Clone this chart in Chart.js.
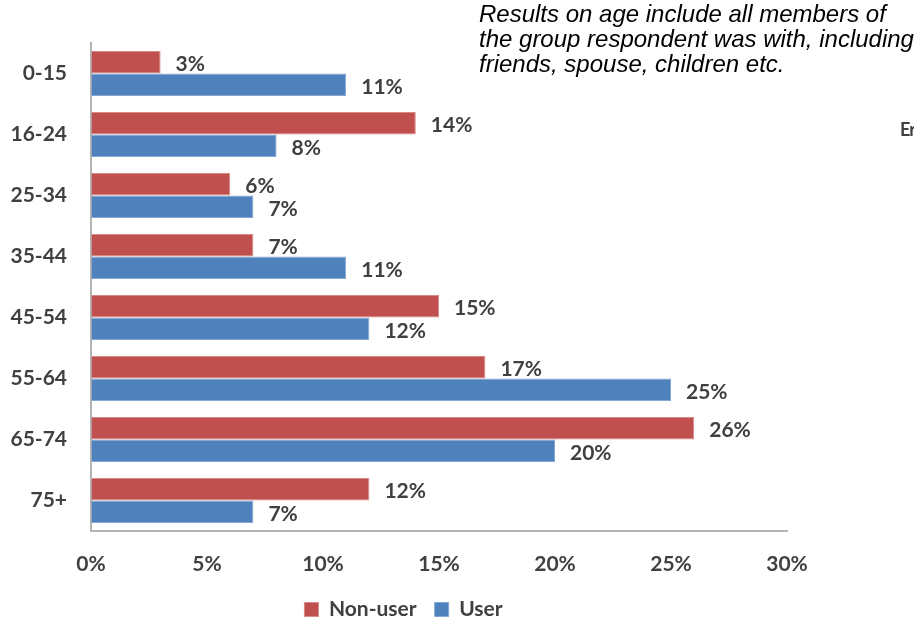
<!DOCTYPE html>
<html>
<head>
<meta charset="utf-8">
<script src="https://cdn.jsdelivr.net/npm/chart.js@4"></script>
<style>
  body { margin: 0; background: #fff; }
  #wrap { position: relative; width: 914px; height: 621px; overflow: hidden; }
  #note {
    position: absolute; left: 479px; top: 1px;
    font: italic 24px "Liberation Sans", Arial, sans-serif;
    line-height: 25px; color: #000; white-space: nowrap;
  }
  #cut {
    position: absolute; left: 900px; top: 118px;
    font: bold 18px Lato, sans-serif; color: #404040; white-space: nowrap;
    letter-spacing: -1px;
  }
</style>
</head>
<body>
<div id="wrap">
  <canvas id="ageChart" width="914" height="621"></canvas>
  <div id="note">Results on age include all members of<br>the group respondent was with, including<br>friends, spouse, children etc.</div>
  <div id="cut">Er</div>
</div>
<script>
const ageGroups = ['0-15', '16-24', '25-34', '35-44', '45-54', '55-64', '65-74', '75+'];
const nonUser = [3, 14, 6, 7, 15, 17, 26, 12];
const user = [11, 8, 7, 11, 12, 25, 20, 7];

const textColor = '#404040';
const labelFont = { family: 'Lato', size: 21, weight: 'bold' };

// percent labels to the right of each bar
const valueLabels = {
  id: 'valueLabels',
  afterDatasetsDraw(chart) {
    const ctx = chart.ctx;
    ctx.save();
    ctx.font = 'bold 21px Lato';
    ctx.fillStyle = textColor;
    ctx.textAlign = 'left';
    ctx.textBaseline = 'middle';
    chart.data.datasets.forEach((ds, i) => {
      chart.getDatasetMeta(i).data.forEach((bar, j) => {
        ctx.fillText(ds.data[j] + '%', bar.x + 15, bar.y + 2);
      });
    });
    ctx.restore();
  },
};

// push the legend a bit right of the canvas centre
const legendNudge = {
  id: 'legendNudge',
  afterLayout(chart) {
    chart.legend.left += 20;
  },
};

const chart = new Chart(document.getElementById('ageChart'), {
  type: 'bar',
  data: {
    labels: ageGroups,
    datasets: [
      {
        label: 'Non-user',
        data: nonUser,
        backgroundColor: '#C0504D',
        borderColor: '#D98986',
        borderWidth: 1,
        categoryPercentage: 0.74,
        barPercentage: 1.0,
      },
      {
        label: 'User',
        data: user,
        backgroundColor: '#4F81BD',
        borderColor: '#84A7D3',
        borderWidth: 1,
        categoryPercentage: 0.74,
        barPercentage: 1.0,
      },
    ],
  },
  options: {
    indexAxis: 'y',
    responsive: false,
    animation: false,
    layout: {
      // legend sits a little lower than the default, hence the negative bottom
      padding: { top: 43, right: 127, bottom: -9, left: 0 },
    },
    plugins: {
      legend: {
        position: 'bottom',
        labels: {
          color: textColor,
          font: labelFont,
          boxWidth: 14,
          boxHeight: 14,
          padding: 18,
        },
      },
      tooltip: { enabled: false },
    },
    scales: {
      x: {
        min: 0,
        max: 30,
        ticks: {
          stepSize: 5,
          padding: 21,
          color: textColor,
          font: labelFont,
          callback: (v) => v + '%',
        },
        grid: { drawOnChartArea: false, drawTicks: false },
        border: { color: '#B3B3B3', width: 2 },
        afterFit: (scale) => { scale.height = 50; },
      },
      y: {
        ticks: {
          padding: 24,
          color: textColor,
          font: labelFont,
        },
        grid: { drawOnChartArea: false, drawTicks: false },
        border: { color: '#B3B3B3', width: 2 },
        afterFit: (scale) => { scale.width = 91; },
      },
    },
  },
  plugins: [valueLabels, legendNudge],
});
</script>
</body>
</html>
